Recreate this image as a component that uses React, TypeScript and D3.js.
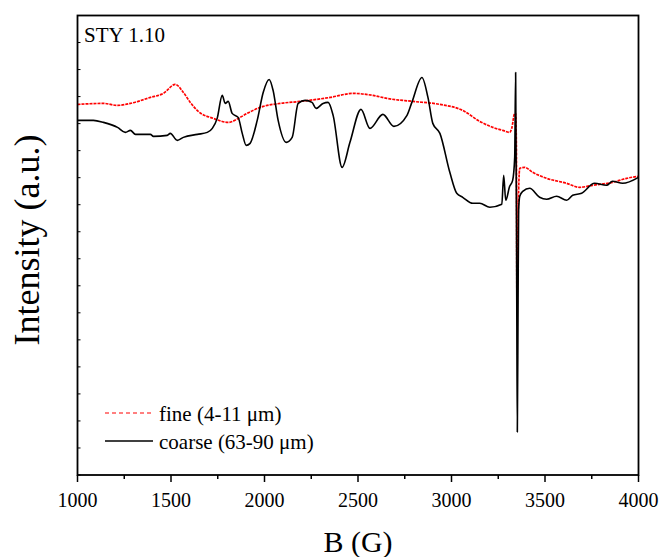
import React from "react";
import * as d3 from "d3";

const fineField = [1000, 1139, 1214, 1283, 1390, 1459, 1523, 1566, 1603, 1646, 1726, 1806, 1870, 1907, 1993, 2084, 2190, 2351, 2473, 2580, 2655, 2794, 2938, 3060, 3151, 3221, 3274, 3311, 3322, 3338, 3343, 3347, 3350, 3354, 3359, 3365, 3391, 3434, 3509, 3616, 3685, 3754, 3861, 3936, 4000];
const fineIntensity = [371, 372, 370, 372, 378, 382, 391, 383, 373, 364, 357, 353, 358, 362, 369, 372, 374, 378, 382, 380, 377, 374, 371, 365, 354, 348, 345, 343, 347, 362, 362, 330, 170, 225, 285, 307, 308, 303, 297, 292, 288, 290, 293, 297, 299];

const coarseField = [1000, 1085, 1139, 1214, 1256, 1283, 1310, 1390, 1406, 1480, 1496, 1534, 1566, 1641, 1694, 1721, 1747, 1774, 1790, 1806, 1827, 1859, 1881, 1902, 1923, 1961, 1993, 2025, 2046, 2073, 2116, 2148, 2180, 2217, 2254, 2276, 2313, 2340, 2367, 2415, 2457, 2516, 2564, 2633, 2692, 2762, 2788, 2842, 2874, 2900, 2938, 2991, 3028, 3060, 3114, 3151, 3205, 3269, 3279, 3290, 3311, 3327, 3338, 3343, 3349, 3352, 3356, 3359, 3365, 3381, 3418, 3471, 3509, 3562, 3616, 3648, 3696, 3765, 3829, 3861, 3915, 4000];
const coarseIntensity = [355, 355, 353, 348, 343, 345, 341, 341, 339, 340, 342, 335, 338, 341, 343, 347, 357, 380, 372, 374, 362, 358, 342, 330, 332, 355, 383, 396, 385, 355, 333, 338, 372, 375, 373, 367, 372, 373, 360, 308, 333, 366, 347, 361, 349, 360, 373, 398, 378, 352, 342, 303, 282, 278, 272, 272, 268, 271, 300, 275, 289, 295, 318, 403, 175, 43, 175, 265, 279, 284, 287, 278, 276, 279, 275, 280, 282, 292, 290, 294, 292, 298];

const xTickValues = [1000, 1500, 2000, 2500, 3000, 3500, 4000];
const xMinorTicks = [1250, 1750, 2250, 2750, 3250, 3750];
const seriesLabels = ["fine (4-11 \u03bcm)", "coarse (63-90 \u03bcm)"];
const sampleLabel = "STY 1.10";

const FONT = "'Liberation Serif', 'Times New Roman', serif";

export default function App() {
  const W = 661, H = 557;
  const left = 77.5, right = 638.5, top = 15.5, bottom = 475;
  const x = d3.scaleLinear().domain([1000, 4000]).range([left, right]);
  const y = d3.scaleLinear().domain([0, 460]).range([bottom, top]);
  const yTicks = d3.range(0, 461, 460 / 17);

  const line = d3
    .line<[number, number]>()
    .x((d) => x(d[0]))
    .y((d) => y(d[1]))
    .curve(d3.curveMonotoneX);

  const fineData = fineField.map((f, i) => [f, fineIntensity[i]] as [number, number]);
  const coarseData = coarseField.map((f, i) => [f, coarseIntensity[i]] as [number, number]);

  return (
    <svg width={W} height={H} style={{ position: "absolute", left: 0, top: 0, background: "#fff" }} fontFamily={FONT}>
      <path d={line(fineData) || ""} fill="none" stroke="#ff0000" strokeWidth={1.7} strokeDasharray="3,1" />
      <path d={line(coarseData) || ""} fill="none" stroke="#000" strokeWidth={1.6} strokeLinejoin="round" />

      {/* frame */}
      <rect x={left} y={top} width={right - left} height={bottom - top} fill="none" stroke="#000" strokeWidth={1.8} />

      {/* y ticks */}
      {yTicks.map((t, i) => (
        <line key={"yt" + i} x1={left} x2={left + 3} y1={y(t)} y2={y(t)} stroke="#000" strokeWidth={1} />
      ))}

      {/* x ticks */}
      {xTickValues.map((t) => (
        <g key={"xt" + t}>
          <line x1={x(t)} x2={x(t)} y1={bottom} y2={bottom + 7} stroke="#000" strokeWidth={1.5} />
          <text x={x(t)} y={507} textAnchor="middle" fontSize={20} fill="#000">
            {t}
          </text>
        </g>
      ))}
      {xMinorTicks.map((t) => (
        <line key={"xm" + t} x1={x(t)} x2={x(t)} y1={bottom} y2={bottom + 4} stroke="#000" strokeWidth={1.5} />
      ))}

      <text x={358} y={552} textAnchor="middle" fontSize={30} fill="#000">
        B (G)
      </text>
      <text transform={`translate(39,240) rotate(-90)`} textAnchor="middle" fontSize={36} fill="#000">
        Intensity (a.u.)
      </text>

      <text x={84} y={42} fontSize={21} fill="#000">
        {sampleLabel}
      </text>

      {/* legend */}
      <line x1={105} x2={153} y1={413} y2={413} stroke="#ff0000" strokeWidth={1.2} strokeDasharray="4,3" />
      <text x={159} y={421} fontSize={21} fill="#000">
        {seriesLabels[0]}
      </text>
      <line x1={105} x2={153} y1={441} y2={441} stroke="#000" strokeWidth={1.4} />
      <text x={159} y={449} fontSize={21} fill="#000">
        {seriesLabels[1]}
      </text>
    </svg>
  );
}
